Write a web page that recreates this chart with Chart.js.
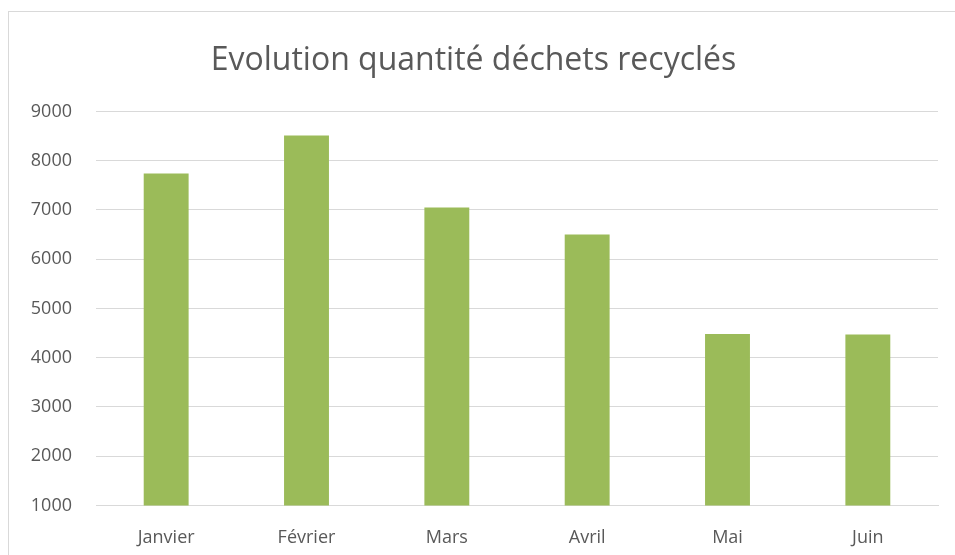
<!DOCTYPE html>
<html>
<head>
<meta charset="utf-8">
<script src="https://cdn.jsdelivr.net/npm/chart.js@4"></script>
<style>
  html, body { margin: 0; padding: 0; background: #fff; overflow: hidden; }
  #box {
    position: absolute; left: 8px; top: 11px;
    width: 960px; height: 580px;
    border: 1px solid #d9d9d9; background: #fff;
  }
  #wrap { position: absolute; left: 0; top: 0; width: 947px; height: 564px; }
</style>
</head>
<body>
<div id="box">
  <div id="wrap"><canvas id="myChart"></canvas></div>
</div>
<script>
// Months and recycled quantities
var months = ['Janvier', 'Février', 'Mars', 'Avril', 'Mai', 'Juin'];
var quantities = [7740, 8510, 7050, 6500, 4480, 4470];
var yMin = 1000;
var yMax = 9000;
var yStep = 1000;

var grey = '#595959';
var gridGrey = '#d9d9d9';

var ctx = document.getElementById('myChart').getContext('2d');
var myChart = new Chart(ctx, {
    type: 'bar',
    data: {
        labels: months,
        datasets: [{
            label: 'Quantité',
            data: quantities,
            backgroundColor: '#9bbb59',
            borderWidth: 0,
            categoryPercentage: 1,
            barPercentage: 0.32
        }]
    },
    options: {
        responsive: true,
        maintainAspectRatio: false,
        animation: false,
        layout: { padding: { left: 0, right: 18, top: 30, bottom: 5 } },
        plugins: {
            legend: { display: false },
            tooltip: { enabled: false },
            title: {
                display: true,
                text: 'Evolution quantité déchets recyclés',
                color: grey,
                font: { family: 'Open Sans', size: 32, weight: 'normal' },
                padding: { top: 0, bottom: 31 }
            }
        },
        scales: {
            x: {
                grid: { display: false, drawTicks: false },
                border: { display: true, color: gridGrey, width: 1 },
                ticks: {
                    color: grey,
                    font: { family: 'Open Sans', size: 18 },
                    padding: 22
                }
            },
            y: {
                min: yMin,
                max: yMax,
                afterFit: function(scale) { scale.width = 87; },
                grid: { color: gridGrey, drawTicks: false, lineWidth: 1 },
                border: { display: false },
                ticks: {
                    stepSize: yStep,
                    color: grey,
                    font: { family: 'Open Sans', size: 18 },
                    padding: 24,
                    callback: function(value) { return String(value); }
                }
            }
        }
    }
});
</script>
</body>
</html>
